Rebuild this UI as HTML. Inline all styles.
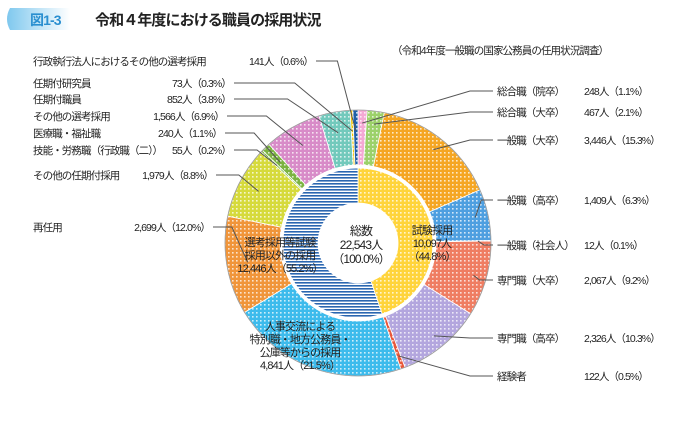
<!DOCTYPE html>
<html><head><meta charset="utf-8"><style>
body{margin:0;background:#fff;}
svg text{font-family:"Liberation Sans","Noto Sans CJK JP",sans-serif;fill:#222;letter-spacing:-0.9px;}
</style></head><body>
<svg id="c" width="683" height="437" viewBox="0 0 683 437">
<defs>
<linearGradient id="badge" x1="0" x2="1"><stop offset="0" stop-color="#7fc8ee"/><stop offset="1" stop-color="#fff"/></linearGradient>
<pattern id="navystripe" width="4" height="3" patternUnits="userSpaceOnUse"><rect width="4" height="3" fill="#fff"/><rect width="4" height="1.6" fill="#2a66b0"/></pattern>
</defs>
<g>
<path d="M10,8 h60 v22 h-60 q-6,-11 0,-22z" fill="url(#badge)"/>
<text x="30" y="25" font-size="14" font-weight="bold" style="fill:#2a8fd0">図1-3</text>
<text x="95" y="25" font-size="15" font-weight="bold">令和４年度における職員の採用状況</text>
</g>
<text x="392" y="54" font-size="10.5">（令和4年度一般職の国家公務員の任用状況調査）</text>
<g id="rings"></g>
<g id="labels"></g>
<g font-size="12" text-anchor="middle">
<text x="361" y="235">総数</text><text x="361" y="249">22,543人</text><text x="361" y="263">（100.0%）</text>
</g>
<g font-size="11" text-anchor="middle">
<text x="432" y="234">試験採用</text><text x="432" y="247">10,097人</text><text x="432" y="260">（44.8%）</text>
<text x="280" y="246">選考採用等試験</text><text x="280" y="259">採用以外の採用</text><text x="280" y="272">12,446人（55.2%）</text>
<text x="300" y="330">人事交流による</text><text x="300" y="343">特別職・地方公務員・</text><text x="300" y="356">公庫等からの採用</text><text x="300" y="369">4,841人（21.5%）</text>
</g>
</svg>
<script>
const outerNames=["総合職（院卒）","総合職（大卒）","一般職（大卒）","一般職（高卒）","一般職（社会人）","専門職（大卒）","専門職（高卒）","経験者","人事交流","再任用","その他の任期付採用","技能・労務職（行政職（二））","医療職・福祉職","その他の選考採用","任期付職員","任期付研究員","行政執行法人におけるその他の選考採用"];
const outerValues=[248,467,3446,1409,12,2067,2326,122,4841,2699,1979,55,240,1566,852,73,141];
const outerPct=["1.1","2.1","15.3","6.3","0.1","9.2","10.3","0.5","21.5","12.0","8.8","0.2","1.1","6.9","3.8","0.3","0.6"];
const innerNames=["試験採用","選考採用等試験採用以外の採用"];
const innerValues=[10097,12446];
const outerColors=["#f4a9d4","#9cd16a","#f5a623","#4e9fe0","#4e9fe0","#ef7d62","#b3a6de","#e8573a","#3dbbec","#f0953a","#d6da3c","#7cb342","#7cb342","#d88bc8","#72c9bc","#f2c200","#1f5fa8"];
const innerColors=["#ffd43b","#2f6db5"];
const cx=358,cy=243;
const NS="http://www.w3.org/2000/svg";
const svg=document.getElementById('c');
const defs=svg.querySelector('defs');
function mkPat(id,col){const p=document.createElementNS(NS,'pattern');p.setAttribute('id',id);p.setAttribute('width','4');p.setAttribute('height','4');p.setAttribute('patternUnits','userSpaceOnUse');
p.innerHTML='<rect width="4" height="4" fill="'+col+'"/><rect x="0" y="0" width="1.6" height="1.6" fill="#fff" opacity="0.75"/>';defs.appendChild(p);}
outerColors.forEach((c,i)=>mkPat('po'+i,c));
mkPat('pi0',innerColors[0]);
function pt(a,r){const t=(a-90)*Math.PI/180;return [cx+r*Math.cos(t),cy+r*Math.sin(t)];}
function arc(a0,a1,r0,r1){const l=a1-a0>180?1:0;const p0=pt(a0,r1),p1=pt(a1,r1),p2=pt(a1,r0),p3=pt(a0,r0);
return `M${p0}A${r1},${r1} 0 ${l} 1 ${p1}L${p2}A${r0},${r0} 0 ${l} 0 ${p3}Z`;}
const rings=document.getElementById('rings');
function ring(vals,r0,r1,fills,inner){const tot=vals.reduce((a,b)=>a+b,0);let c=0;const mids=[];
vals.forEach((v,i)=>{const a0=c/tot*360;c+=v;const a1=c/tot*360;const p=document.createElementNS(NS,'path');
p.setAttribute('d',arc(a0,a1,r0,r1));p.setAttribute('fill',fills[i]);p.setAttribute('stroke','#fff');p.setAttribute('stroke-width','0.8');


rings.appendChild(p);mids.push((a0+a1)/2);});return mids;}
const mids=ring(outerValues,78,133,outerColors.map((c,i)=>'url(#po'+i+')'),false);
ring(innerValues,40,75,['url(#pi0)','url(#navystripe)'],true);
const circ=document.createElementNS(NS,'circle');circ.setAttribute('cx',cx);circ.setAttribute('cy',cy);circ.setAttribute('r',133);circ.setAttribute('fill','none');circ.setAttribute('stroke','#999');circ.setAttribute('stroke-width','0.8');rings.appendChild(circ);
const labels=document.getElementById('labels');
const layout={0:['R',91],1:['R',112],2:['R',140],3:['R',200],4:['R',245],5:['R',280],6:['R',338],7:['R',376],
9:['L',227,210],10:['L',175,213],11:['L',150,231],12:['L',133,222],13:['L',116,224],14:['L',99,231],15:['L',83,231],16:['L',61,313]};
function fmt(n){return n.toLocaleString('en-US');}
for(const k in layout){const i=+k;const [side,y,vx]=layout[k];const g=document.createElementNS(NS,'g');


const e=pt(mids[i],side==='R'?120:112);
let html='';
if(side==='R'){html+=`<polyline points="${e[0]},${e[1]} ${e[0]<470?Math.max(e[0]+15,470):e[0]+6},${y} 493,${y}" fill="none" stroke="#555" stroke-width="1"/>`;
html+=`<text x="497" y="${y+4}" font-size="10.5">${outerNames[i]}</text><text x="584" y="${y+4}" font-size="10.5">${fmt(outerValues[i])}人（${outerPct[i]}%）</text>`;}
else{html+=`<polyline points="${vx+3},${y} ${Math.min(e[0]-10,vx+3+(e[0]-vx)*0.5)},${y} ${e[0]},${e[1]}" fill="none" stroke="#555" stroke-width="1"/>`;
html+=`<text x="33" y="${y+4}" font-size="10.5">${outerNames[i]}</text><text x="${vx}" y="${y+4}" font-size="10.5" text-anchor="end">${fmt(outerValues[i])}人（${outerPct[i]}%）</text>`;}
g.innerHTML=html;labels.appendChild(g);}
</script>
</body></html>
